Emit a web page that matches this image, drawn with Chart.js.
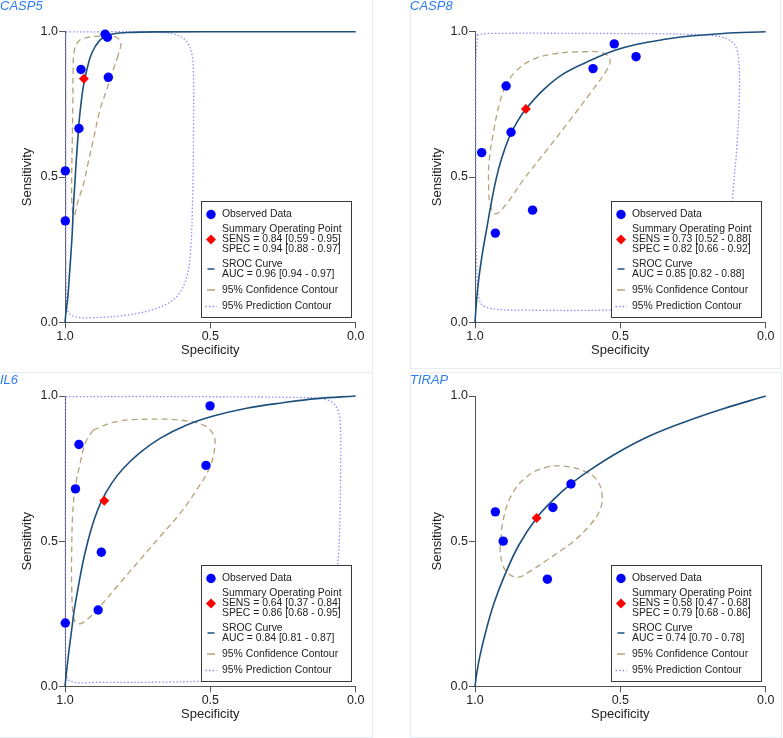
<!DOCTYPE html>
<html>
<head>
<meta charset="utf-8">
<script src="https://cdn.jsdelivr.net/npm/chart.js@4.4.0/dist/chart.umd.min.js"></script>
<style>
  html, body { margin: 0; padding: 0; background: #fff; }
  body { position: relative; width: 783px; height: 738px; overflow: hidden; }
  .frame { position: absolute; box-sizing: border-box; border: 1px solid #e6eef3; }
  canvas { position: absolute; }
</style>
</head>
<body>
<div class="frame" style="left:-1px;top:-1px;width:374px;height:374px"></div>
<div class="frame" style="left:410px;top:-1px;width:371px;height:370px"></div>
<div class="frame" style="left:-1px;top:372px;width:374px;height:366px"></div>
<div class="frame" style="left:410px;top:372px;width:372px;height:366px"></div>

<canvas id="casp5" width="372" height="369" style="left:0;top:0"></canvas>
<canvas id="casp8" width="372" height="369" style="left:410px;top:0"></canvas>
<canvas id="il6" width="372" height="363" style="left:0;top:370px"></canvas>
<canvas id="tirap" width="372" height="363" style="left:410px;top:370px"></canvas>

<script>
// ------------------------------------------------------------
// Bivariate SROC plots, one per gene. Points are [specificity, sensitivity].
// ------------------------------------------------------------

// CASP5
const casp5Observed = [[0.862, 0.991], [0.854, 0.981], [0.945, 0.870], [0.851, 0.843], [0.952, 0.667], [0.999, 0.521], [0.999, 0.349]]
const casp5Summary  = [[0.935, 0.838]]
const casp5Sroc = [[1, 0], [0.996, 0.04], [0.990, 0.09], [0.985, 0.16], [0.980, 0.23], [0.975, 0.31], [0.971, 0.40], [0.966, 0.48],
  [0.961, 0.56], [0.956, 0.63], [0.951, 0.696], [0.944, 0.76], [0.937, 0.811], [0.925, 0.868], [0.908, 0.926], [0.880, 0.971],
  [0.851, 0.989], [0.788, 0.997], [0.65, 0.9995], [0.4, 1], [0, 1]]
const casp5Confidence = [[0.817, 0.92], [0.834, 0.868], [0.854, 0.808], [0.880, 0.73], [0.900, 0.64], [0.920, 0.55], [0.938, 0.47],
  [0.954, 0.421], [0.969, 0.366], [0.976, 0.405], [0.977, 0.50], [0.975, 0.62], [0.973, 0.75], [0.972, 0.87], [0.968, 0.935],
  [0.955, 0.965], [0.937, 0.977], [0.880, 0.985], [0.828, 0.983], [0.808, 0.962], [0.817, 0.92]]
const casp5Prediction = [[0.997, 0.999], [0.822, 1.0], [0.673, 0.998], [0.616, 0.989], [0.581, 0.966], [0.564, 0.925], [0.558, 0.857],
  [0.558, 0.65], [0.561, 0.421], [0.568, 0.249], [0.581, 0.157], [0.616, 0.088], [0.685, 0.048], [0.788, 0.025], [0.903, 0.016],
  [0.966, 0.019], [0.989, 0.037], [0.995, 0.1], [0.997, 0.421], [0.997, 0.765], [0.997, 0.999]]
const casp5Stats = ['SENS = 0.84 [0.59 - 0.95]', 'SPEC = 0.94 [0.88 - 0.97]', 'AUC = 0.96 [0.94 - 0.97]']

// CASP8
const casp8Observed = [[0.521, 0.958], [0.446, 0.914], [0.594, 0.873], [0.893, 0.813], [0.876, 0.654], [0.977, 0.584], [0.802, 0.386], [0.930, 0.307]]
const casp8Summary  = [[0.825, 0.734]]
const casp8Sroc = [[1, 0], [0.995, 0.07], [0.987, 0.15], [0.975, 0.235], [0.961, 0.315], [0.945, 0.405], [0.928, 0.49], [0.908, 0.565],
  [0.883, 0.635], [0.855, 0.690], [0.825, 0.734], [0.765, 0.800], [0.696, 0.855], [0.594, 0.905], [0.521, 0.935], [0.446, 0.956],
  [0.352, 0.973], [0.260, 0.985], [0.146, 0.994], [0, 1]]
const casp8Confidence = [[0.897, 0.811], [0.862, 0.862], [0.799, 0.905], [0.719, 0.925], [0.627, 0.931], [0.564, 0.928], [0.536, 0.905],
  [0.547, 0.868], [0.604, 0.788], [0.673, 0.696], [0.753, 0.593], [0.834, 0.490], [0.891, 0.409], [0.928, 0.373], [0.946, 0.398],
  [0.953, 0.467], [0.951, 0.558], [0.935, 0.662], [0.916, 0.753], [0.897, 0.811]]
const casp8Prediction = [[0.992, 0.989], [0.948, 0.994], [0.604, 0.994], [0.260, 0.991], [0.157, 0.983], [0.111, 0.960], [0.094, 0.914],
  [0.091, 0.765], [0.100, 0.593], [0.111, 0.467], [0.123, 0.306], [0.157, 0.134], [0.260, 0.054], [0.547, 0.042], [0.834, 0.042],
  [0.948, 0.048], [0.983, 0.071], [0.994, 0.192], [0.997, 0.536], [0.997, 0.880], [0.992, 0.989]]
const casp8Stats = ['SENS = 0.73 [0.52 - 0.88]', 'SPEC = 0.82 [0.66 - 0.92]', 'AUC = 0.85 [0.82 - 0.88]']

// IL6
const il6Observed = [[0.501, 0.966], [0.952, 0.833], [0.515, 0.761], [0.964, 0.680], [0.875, 0.462], [0.886, 0.263], [0.999, 0.218]]
const il6Summary  = [[0.865, 0.639]]
const il6Sroc = [[1, 0], [0.994, 0.057], [0.986, 0.126], [0.977, 0.195], [0.968, 0.264], [0.954, 0.344], [0.939, 0.424], [0.923, 0.493],
  [0.900, 0.573], [0.874, 0.639], [0.839, 0.700], [0.799, 0.751], [0.742, 0.805], [0.673, 0.854], [0.581, 0.900], [0.490, 0.931],
  [0.375, 0.958], [0.249, 0.977], [0.134, 0.991], [0, 1]]
const il6Confidence = [[0.903, 0.883], [0.822, 0.912], [0.708, 0.920], [0.604, 0.917], [0.524, 0.900], [0.492, 0.872], [0.484, 0.837],
  [0.501, 0.757], [0.547, 0.677], [0.604, 0.596], [0.673, 0.516], [0.742, 0.436], [0.811, 0.356], [0.880, 0.275], [0.931, 0.224],
  [0.958, 0.216], [0.971, 0.241], [0.977, 0.344], [0.977, 0.459], [0.974, 0.585], [0.966, 0.677], [0.948, 0.768], [0.928, 0.843], [0.903, 0.883]]
const il6Prediction = [[0.998, 0.998], [0.650, 0.998], [0.192, 0.995], [0.111, 0.990], [0.071, 0.969], [0.054, 0.917], [0.052, 0.745],
  [0.056, 0.516], [0.063, 0.401], [0.077, 0.229], [0.123, 0.080], [0.249, 0.029], [0.536, 0.017], [0.880, 0.014], [0.989, 0.023],
  [0.998, 0.115], [0.999, 0.516], [0.999, 0.860], [0.998, 0.998]]
const il6Stats = ['SENS = 0.64 [0.37 - 0.84]', 'SPEC = 0.86 [0.68 - 0.95]', 'AUC = 0.84 [0.81 - 0.87]']

// TIRAP (no prediction contour drawn)
const tirapObserved = [[0.930, 0.601], [0.903, 0.500], [0.732, 0.616], [0.670, 0.697], [0.751, 0.369]]
const tirapSummary  = [[0.788, 0.580]]
const tirapSroc = [[1, 0], [0.994, 0.045], [0.983, 0.105], [0.96, 0.2], [0.935, 0.285], [0.903, 0.37], [0.85, 0.485], [0.788, 0.58],
  [0.73, 0.643], [0.67, 0.697], [0.6, 0.748], [0.513, 0.803], [0.4, 0.862], [0.283, 0.909], [0.146, 0.956], [0, 1]]
const tirapConfidence = [[0.914, 0.470], [0.903, 0.573], [0.874, 0.659], [0.822, 0.722], [0.753, 0.755], [0.685, 0.757], [0.622, 0.740],
  [0.581, 0.711], [0.563, 0.659], [0.570, 0.608], [0.604, 0.556], [0.662, 0.499], [0.742, 0.442], [0.811, 0.396], [0.851, 0.376],
  [0.885, 0.388], [0.905, 0.419], [0.914, 0.470]]
const tirapPrediction = []
const tirapStats = ['SENS = 0.58 [0.47 - 0.68]', 'SPEC = 0.79 [0.68 - 0.86]', 'AUC = 0.74 [0.70 - 0.78]']

const axisTicks = [0, 0.5, 1]

// ------------------------------------------------------------
const OBS_BLUE  = '#0000ff'
const SUM_RED   = '#ff0000'
const SROC_NAVY = '#1d4f7d'
const CONF_TAN  = '#b4a37a'
const PRED_LILAC = '#8f8fff'
const TITLE_BLUE = '#2e7bf6'
const AXIS_GREY = '#555555'
const INK       = '#222222'
const FONT      = "Arial, 'Liberation Sans', sans-serif"

const toXY = arr => arr.map(([x, y]) => ({ x, y }))

// Boxed legend, bottom-right of the plot area, drawn over the contours.
const boxLegend = {
  id: 'boxLegend',
  afterDatasetsDraw(chart, args, opts) {
    const { ctx, chartArea } = chart
    const w = 150, h = 116
    const x0 = Math.round(chartArea.right - 5 - w) + 0.5
    const y0 = Math.round(chartArea.bottom - 5 - h) + 0.5
    ctx.save()
    ctx.fillStyle = '#ffffff'
    ctx.fillRect(x0, y0, w, h)
    ctx.strokeStyle = '#3a3a3a'
    ctx.lineWidth = 1
    ctx.strokeRect(x0, y0, w, h)

    const mx = x0 + 9.5
    ctx.fillStyle = OBS_BLUE
    ctx.beginPath(); ctx.arc(mx, y0 + 13, 4.7, 0, Math.PI * 2); ctx.fill()

    ctx.fillStyle = SUM_RED
    ctx.beginPath()
    ctx.moveTo(mx, y0 + 33); ctx.lineTo(mx + 5, y0 + 38); ctx.lineTo(mx, y0 + 43); ctx.lineTo(mx - 5, y0 + 38)
    ctx.closePath(); ctx.fill()

    const dash = (y, half, color, pattern) => {
      ctx.strokeStyle = color
      ctx.lineWidth = 1.5
      ctx.setLineDash(pattern)
      ctx.beginPath(); ctx.moveTo(mx - half, y); ctx.lineTo(mx + half, y); ctx.stroke()
    }
    dash(y0 + 67.5, 3.5, SROC_NAVY, [])
    dash(y0 + 88.5, 4, CONF_TAN, [])
    dash(y0 + 105, 5.5, PRED_LILAC, [1.5, 2])
    ctx.setLineDash([])

    ctx.font = `10.4px ${FONT}`
    ctx.fillStyle = INK
    ctx.textAlign = 'left'
    ctx.textBaseline = 'middle'
    const tx = x0 + 20.5
    const rows = [
      [13, 'Observed Data'], [28, 'Summary Operating Point'], [38, opts.stats[0]], [48, opts.stats[1]],
      [63, 'SROC Curve'], [73, opts.stats[2]], [88.5, '95% Confidence Contour'], [105, '95% Prediction Contour'],
    ]
    rows.forEach(([dy, text]) => ctx.fillText(text, tx, y0 + dy))
    ctx.restore()
  },
}

function axis(titleText, isX, titlePad) {
  return {
    type: 'linear',
    min: 0, max: 1,
    reverse: isX,
    afterFit(scale) {
      if (isX) scale.height = 46.7
      else scale.width = 65
    },
    afterBuildTicks(scale) { scale.ticks = axisTicks.map(v => ({ value: v })) },
    ticks: {
      callback: v => v.toFixed(1),
      color: INK, padding: 1,
      font: { family: FONT, size: 12.5 },
    },
    grid: { drawOnChartArea: false, drawTicks: true, tickLength: 6, color: AXIS_GREY, tickWidth: 1 },
    border: { display: true, color: AXIS_GREY, width: 1 },
    title: {
      display: true, text: titleText, color: INK,
      font: { family: FONT, size: 13 },
      padding: titlePad,
    },
  }
}

function drawPanel(id, name, titlePad, observed, summary, sroc, confidence, prediction, stats) {
  const line = (data, color, extra) => ({
    data: toXY(data), showLine: true, pointRadius: 0, borderColor: color,
    backgroundColor: color, fill: false, clip: false, ...extra,
  })
  new Chart(document.getElementById(id).getContext('2d'), {
    type: 'scatter',
    data: {
      datasets: [
        { label: 'Summary Operating Point', data: toXY(summary), pointStyle: 'rectRot', pointRadius: 5,
          backgroundColor: SUM_RED, borderWidth: 0, clip: false },
        { label: 'Observed Data', data: toXY(observed), pointStyle: 'circle', pointRadius: 4.7,
          backgroundColor: OBS_BLUE, borderWidth: 0, clip: false },
        line(sroc, SROC_NAVY, { borderWidth: 1.6, tension: 0.4 }),
        line(confidence, CONF_TAN, { borderWidth: 1.3, borderDash: [6, 4], tension: 0.4 }),
        line(prediction, PRED_LILAC, { borderWidth: 1.3, borderDash: [1.5, 2], tension: 0.35 }),
      ],
    },
    options: {
      responsive: false,
      animation: false,
      devicePixelRatio: 1,
      events: [],
      layout: { padding: { left: 0, right: 16.3, top: 0, bottom: 0 } },
      plugins: {
        legend: { display: false },
        tooltip: { enabled: false },
        title: {
          display: true, text: name, align: 'start', color: TITLE_BLUE,
          font: { family: FONT, size: 13, style: 'italic', weight: 'normal', lineHeight: 1 },
          padding: titlePad,
        },
        boxLegend: { stats },
      },
      scales: {
        x: axis('Specificity', true, { top: 0, bottom: 11.2 }),
        y: axis('Sensitivity', false, { top: 19.7, bottom: 0 }),
      },
    },
    plugins: [boxLegend],
  })
}

drawPanel('casp5', 'CASP5', { top: 0, bottom: 18.7 }, casp5Observed, casp5Summary, casp5Sroc, casp5Confidence, casp5Prediction, casp5Stats)
drawPanel('casp8', 'CASP8', { top: 0, bottom: 18.7 }, casp8Observed, casp8Summary, casp8Sroc, casp8Confidence, casp8Prediction, casp8Stats)
drawPanel('il6', 'IL6', { top: 3.5, bottom: 9.5 }, il6Observed, il6Summary, il6Sroc, il6Confidence, il6Prediction, il6Stats)
drawPanel('tirap', 'TIRAP', { top: 3.5, bottom: 9.5 }, tirapObserved, tirapSummary, tirapSroc, tirapConfidence, tirapPrediction, tirapStats)
</script>
</body>
</html>
